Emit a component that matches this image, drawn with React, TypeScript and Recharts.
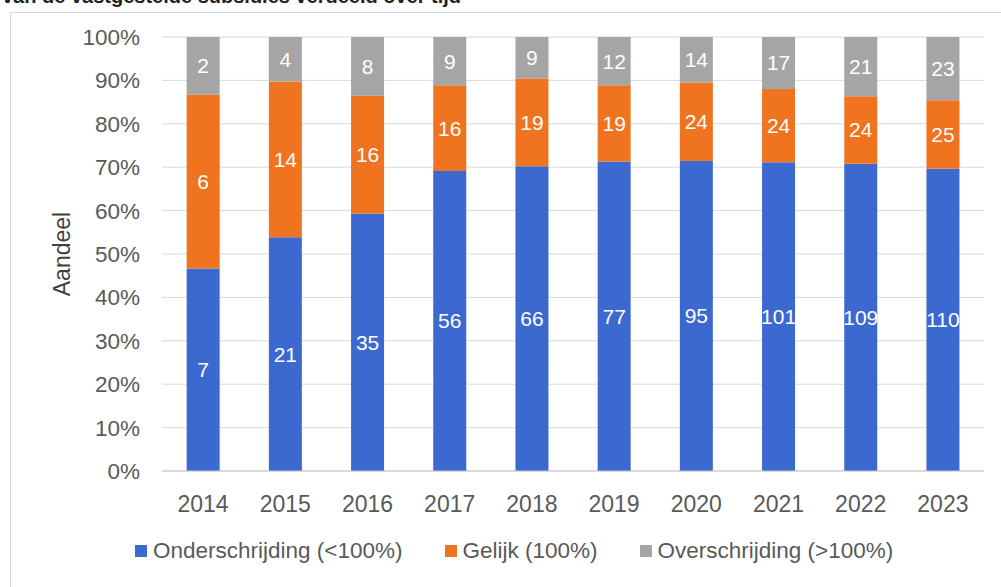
import { BarChart, Bar, XAxis, YAxis, CartesianGrid, Legend, LabelList } from "recharts";

const years = ["2014", "2015", "2016", "2017", "2018", "2019", "2020", "2021", "2022", "2023"];
const onder = [7, 21, 35, 56, 66, 77, 95, 101, 109, 110];
const gelijk = [6, 14, 16, 16, 19, 19, 24, 24, 24, 25];
const over = [2, 4, 8, 9, 9, 12, 14, 17, 21, 23];
const yTicks = [0, 0.1, 0.2, 0.3, 0.4, 0.5, 0.6, 0.7, 0.8, 0.9, 1];

const series = [
  { key: "onder", name: "Onderschrijding (<100%)", color: "#3B69CF" },
  { key: "gelijk", name: "Gelijk (100%)", color: "#F0731F" },
  { key: "over", name: "Overschrijding (>100%)", color: "#A5A5A5" },
];

const data = years.map((year, i) => ({
  year,
  onder: onder[i],
  gelijk: gelijk[i],
  over: over[i],
}));

const FONT = "'Liberation Sans', Arial, sans-serif";
const TEXT = "#595959";

// legend in the series order (recharts sorts payload otherwise)
function LegendContent() {
  return (
    <div style={{ display: "flex", justifyContent: "flex-start", paddingLeft: 135, gap: 42, fontFamily: FONT, fontSize: 22.5, color: TEXT }}>
      {series.map((s) => (
        <div key={s.key} style={{ display: "flex", alignItems: "center", gap: 6 }}>
          <span style={{ width: 12, height: 12, background: s.color, display: "inline-block" }} />
          <span>{s.name}</span>
        </div>
      ))}
    </div>
  );
}

export default function App() {
  return (
    <div style={{ position: "absolute", left: 0, top: 0, width: 1001, height: 587, overflow: "hidden", background: "#fff" }}>
      <div
        style={{
          position: "absolute",
          left: 2,
          top: -15,
          fontFamily: FONT,
          fontWeight: "bold",
          fontSize: 20,
          color: "#222",
          whiteSpace: "nowrap",
        }}
      >
        van de vastgestelde subsidies verdeeld over tijd
      </div>
      <div
        style={{
          position: "absolute",
          left: 10,
          top: 12,
          width: 1010,
          height: 600,
          border: "1px solid #d9d9d9",
        }}
      />
      <div style={{ position: "absolute", left: 0, top: 0 }}>
        <BarChart
          width={1001}
          height={587}
          data={data}
          stackOffset="expand"
          barCategoryGap="30%"
          margin={{ top: 37, right: 17, bottom: 30, left: 0 }}
        >
          <CartesianGrid vertical={false} stroke="#d9d9d9" />
          <XAxis
            dataKey="year"
            height={40}
            tickLine={false}
            axisLine={{ stroke: "#c9c9c9" }}
            tickMargin={19}
            tick={{ fontFamily: FONT, fontSize: 23, fill: TEXT }}
          />
          <YAxis
            width={162}
            domain={[0, 1]}
            ticks={yTicks}
            interval={0}
            tickLine={false}
            axisLine={false}
            tickMargin={16}
            tickFormatter={(v: number) => `${Math.round(v * 100)}%`}
            tick={{ fontFamily: FONT, fontSize: 22.5, fill: TEXT }}
            label={{
              value: "Aandeel",
              angle: -90,
              position: "insideLeft",
              offset: 62,
              style: { textAnchor: "middle", fontFamily: FONT, fontSize: 23, fill: "#404040" },
            }}
          />
          <Legend verticalAlign="bottom" height={46} wrapperStyle={{ top: 538, left: 0, width: 1001 }} content={<LegendContent />} />
          {series.map((s) => (
            <Bar key={s.key} dataKey={s.key} name={s.name} stackId="a" fill={s.color} isAnimationActive={false}>
              <LabelList dataKey={s.key} position="center" fill="#ffffff" style={{ fontFamily: FONT, fontSize: 21 }} />
            </Bar>
          ))}
        </BarChart>
      </div>
    </div>
  );
}
